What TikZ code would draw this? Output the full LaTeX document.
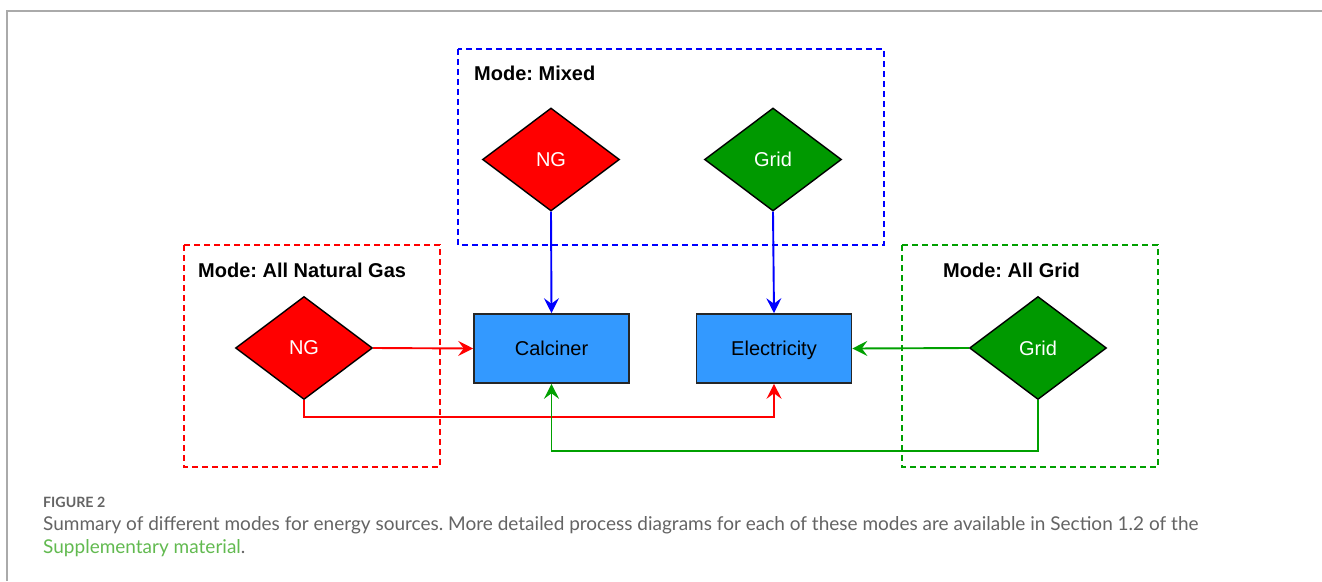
\documentclass[tikz,border=0pt]{standalone}
\usepackage{fontspec}
\setmainfont{Liberation Sans}
\newfontfamily\capfont{Lato}
\usetikzlibrary{shapes.geometric,arrows.meta}
\frenchspacing
\definecolor{boxblue}{RGB}{51,153,255}
\definecolor{dgreen}{RGB}{0,153,0}
\definecolor{lgreen}{RGB}{0,160,0}
\definecolor{capgray}{RGB}{100,100,100}
\definecolor{linkgreen}{RGB}{98,186,80}
\definecolor{framegray}{RGB}{170,170,170}
\tikzset{
  dia/.style={diamond, draw=black, line width=1.4pt, minimum width=137pt, minimum height=103pt, aspect=1.33, inner sep=0pt, text=white, font=\fontsize{20}{24}\selectfont},
  procbox/.style={rectangle, draw=black!85, line width=1.6pt, fill=boxblue, minimum width=155pt, minimum height=69pt, inner sep=0pt, text height=16.5pt, text depth=3.1pt, font=\fontsize{20}{24}\selectfont},
  modebox/.style={line width=1.8pt, dash pattern=on 6pt off 4pt},
  modelabel/.style={font=\bfseries\fontsize{20}{24}\selectfont, anchor=west, inner sep=0pt},
  conn/.style={line width=1.9pt, -{Stealth[length=15pt,width=15pt,inset=5.5pt]}},
}
\begin{document}
\begin{tikzpicture}[x=1pt,y=-1pt]
\useasboundingbox[fill=white] (0,0) rectangle (1322,581);
\draw[framegray, line width=1.6pt] (7,581) -- (7,11) -- (1322,11);

% mode boxes
\draw[modebox, blue] (458,49) rectangle (884,245);
\draw[modebox, red] (184,245) rectangle (440,467);
\draw[modebox, lgreen] (902,245) rectangle (1158,467);
\node[modelabel] (lmixed) at (474,73) {Mode: Mixed};
\node[modelabel] (lng) at (198,270) {Mode: All Natural Gas};
\node[modelabel] (lgrid) at (943,270) {Mode: All Grid};

% nodes
\node[dia, fill=red] (ngm) at (551,159.5) {NG};
\node[dia, fill=dgreen] (gridm) at (773,159.5) {Grid};
\node[dia, fill=red] (nga) at (304,348) {NG};
\node[dia, fill=dgreen] (grida) at (1038,348) {Grid};
\node[procbox] (calc) at (551.5,348.5) {Calciner};
\node[procbox] (elec) at (774,348.5) {Electricity};

\coordinate (redlevel) at (0,417);
\coordinate (greenlevel) at (0,451);

% connectors
\draw[conn, blue] (ngm.south) -- (calc.north);
\draw[conn, blue] (gridm.south) -- (elec.north);
\draw[conn, red] (nga.east) -- (calc.west);
\draw[conn, red] (nga.south) -- (nga.south |- redlevel) -| (elec.south);
\draw[conn, lgreen] (grida.west) -- (elec.east);
\draw[conn, lgreen] (grida.south) -- (grida.south |- greenlevel) -| (calc.south);

% caption
\node[anchor=base west, inner sep=0pt, text=capgray, font=\capfont\bfseries\fontsize{14.2}{16}\selectfont] (figlabel) at (43,507) {FIGURE 2};
\node[anchor=base west, inner sep=0pt, text=capgray, font=\capfont\fontsize{19}{22}\selectfont] (capline1) at (43,530) {Summary of different modes for energy sources. More detailed process diagrams for each of these modes are available in Section 1.2 of the};
\node[anchor=base west, inner sep=0pt, font=\capfont\fontsize{19}{22}\selectfont] (capline2) at (43,553.5) {\textcolor{linkgreen}{Supplementary material}\textcolor{capgray}{.}};
\end{tikzpicture}
\end{document}
